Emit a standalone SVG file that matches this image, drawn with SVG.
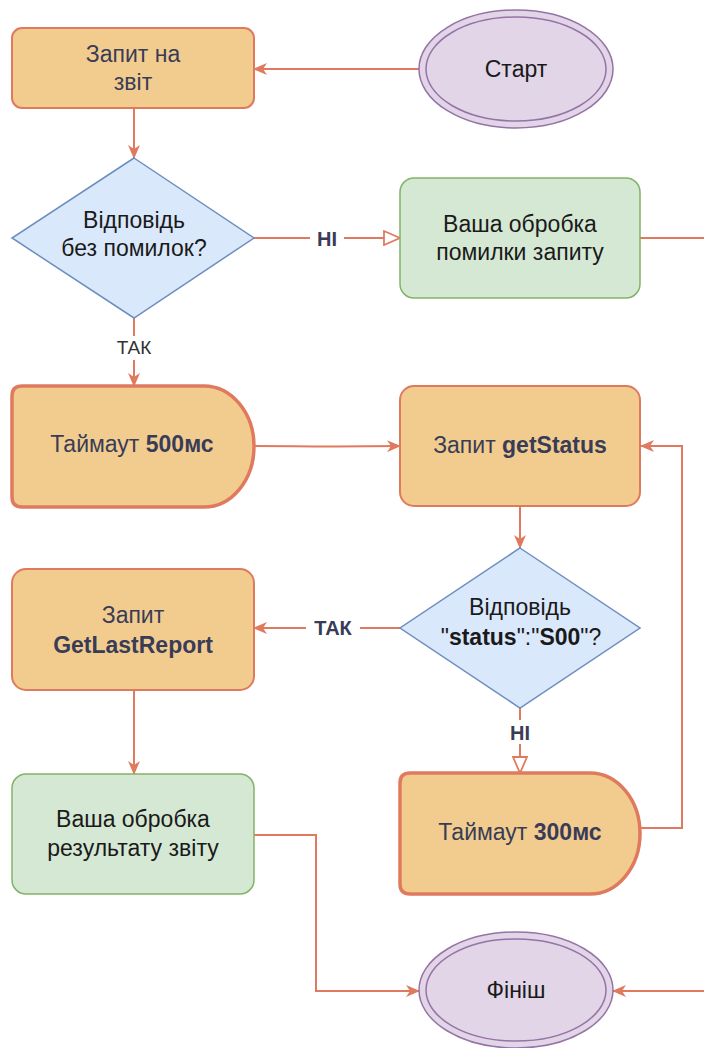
<svg xmlns="http://www.w3.org/2000/svg" width="704" height="1048" viewBox="0 0 704 1048">
<style>
.orange{fill:#F2CC8F;stroke:#E07A5F;stroke-width:2}
.timer{fill:#F2CC8F;stroke:#E07A5F;stroke-width:3.5}
.green{fill:#D5E8D4;stroke:#82B366;stroke-width:1.5}
.blue{fill:#DAE8FC;stroke:#6C8EBF;stroke-width:1.5}
.purple{fill:#E1D5E7;stroke:#9673A6;stroke-width:1.5}
.t{font-family:"Liberation Sans",Arial,sans-serif;font-size:23px;text-anchor:middle}
.dk{fill:#393C56}
.bk{fill:#1A1A1A}
.lbl{font-family:"Liberation Sans",Arial,sans-serif;font-size:20px;font-weight:bold;text-anchor:middle;fill:#393C56}
.lblr{font-family:"Liberation Sans",Arial,sans-serif;font-size:19px;text-anchor:middle;fill:#333333}
.edge{fill:none;stroke:#E07A5F;stroke-width:2}
.b{font-weight:bold}
</style>
<defs>
<marker id="arr" viewBox="0 0 14 12" refX="13" refY="6" markerWidth="14" markerHeight="12" markerUnits="userSpaceOnUse" orient="auto">
<path d="M0,0 L14,6 L0,12 L4,6 Z" fill="#E07A5F"/>
</marker>
<marker id="open" viewBox="0 0 18 16" refX="17" refY="8" markerWidth="18" markerHeight="16" markerUnits="userSpaceOnUse" orient="auto">
<path d="M1,1 L17,8 L1,15 Z" fill="#FFFFFF" stroke="#E07A5F" stroke-width="1.8"/>
</marker>
</defs>
<rect width="704" height="1048" fill="#FFFFFF"/>

<g id="connectors">
<path class="edge" d="M419 69 H254" marker-end="url(#arr)"/>
<path class="edge" d="M134 108 V158" marker-end="url(#arr)"/>
<path class="edge" d="M254 238 H400" marker-end="url(#open)"/>
<path class="edge" d="M640 238 H704"/>
<path class="edge" d="M134 318 V386" marker-end="url(#arr)"/>
<path class="edge" d="M254 446 C300 446 320 447 400 446" marker-end="url(#arr)"/>
<path class="edge" d="M520 506 V548" marker-end="url(#arr)"/>
<path class="edge" d="M400 628 H254" marker-end="url(#arr)"/>
<path class="edge" d="M520 708 V773" marker-end="url(#open)"/>
<path class="edge" d="M638 828 H682 V446 H641" marker-end="url(#arr)"/>
<path class="edge" d="M134 690 V774" marker-end="url(#arr)"/>
<path class="edge" d="M254 835 H316 V991 H419" marker-end="url(#arr)"/>
<path class="edge" d="M704 991 H613" marker-end="url(#arr)"/>
<rect x="310" y="226" width="34" height="24" fill="#FFFFFF"/>
<text class="lbl" x="327" y="246">НІ</text>
<rect x="112" y="336" width="44" height="24" fill="#FFFFFF"/>
<text class="lblr" x="134" y="354">ТАК</text>
<rect x="306" y="616" width="54" height="24" fill="#FFFFFF"/>
<text class="lbl" x="333" y="635">ТАК</text>
<rect x="505" y="720" width="30" height="24" fill="#FFFFFF"/>
<text class="lbl" x="520" y="740">НІ</text>
</g>

<g id="start">
<ellipse class="purple" cx="516" cy="69" rx="97" ry="59"/>
<ellipse class="purple" cx="516" cy="69" rx="90" ry="52"/>
<text class="t bk" x="516" y="77">Старт</text>
</g>

<g id="request-report">
<rect class="orange" x="12" y="28" width="242" height="80" rx="10"/>
<text class="t dk" x="133" y="62">Запит на</text>
<text class="t dk" x="133" y="90">звіт</text>
</g>

<g id="check-errors">
<polygon class="blue" points="134,158 254,238 134,318 12,238"/>
<text class="t bk" x="134" y="228">Відповідь</text>
<text class="t bk" x="134" y="256">без помилок?</text>
</g>

<g id="error-handling">
<rect class="green" x="400" y="178" width="240" height="120" rx="14"/>
<text class="t bk" x="520" y="232">Ваша обробка</text>
<text class="t bk" x="520" y="260">помилки запиту</text>
</g>

<g id="timeout-500">
<path class="timer" d="M22 386 H204 A50 60.5 0 0 1 204 507 H22 Q12 507 12 497 V396 Q12 386 22 386 Z"/>
<text class="t dk" x="132" y="452">Таймаут <tspan class="b">500мс</tspan></text>
</g>

<g id="get-status">
<rect class="orange" x="400" y="386" width="240" height="120" rx="14"/>
<text class="t dk" x="520" y="453">Запит <tspan class="b">getStatus</tspan></text>
</g>

<g id="check-status">
<polygon class="blue" points="520,548 640,628 520,708 400,628"/>
<text class="t bk" x="520" y="615">Відповідь</text>
<text class="t bk" x="521" y="645">"<tspan class="b">status</tspan>":"<tspan class="b">S00</tspan>"?</text>
</g>

<g id="get-last-report">
<rect class="orange" x="12" y="569" width="242" height="121" rx="14"/>
<text class="t dk" x="133" y="623">Запит</text>
<text class="t dk b" x="133" y="653">GetLastReport</text>
</g>

<g id="timeout-300">
<path class="timer" d="M410 773 H590 A50 60.5 0 0 1 590 894 H410 Q400 894 400 884 V783 Q400 773 410 773 Z"/>
<text class="t dk" x="520" y="840">Таймаут <tspan class="b">300мс</tspan></text>
</g>

<g id="result-handling">
<rect class="green" x="12" y="774" width="242" height="120" rx="14"/>
<text class="t bk" x="133" y="827">Ваша обробка</text>
<text class="t bk" x="133" y="856">результату звіту</text>
</g>

<g id="finish">
<ellipse class="purple" cx="516" cy="990" rx="97" ry="58"/>
<ellipse class="purple" cx="516" cy="990" rx="90" ry="51"/>
<text class="t bk" x="516" y="998">Фініш</text>
</g>
</svg>
